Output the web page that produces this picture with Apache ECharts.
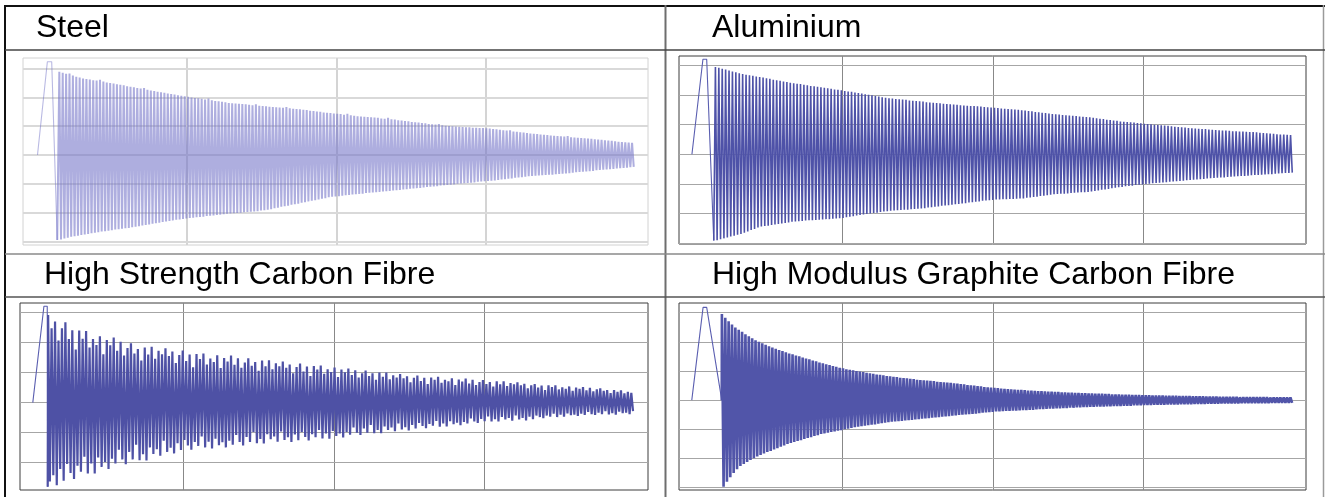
<!DOCTYPE html>
<html><head><meta charset="utf-8">
<script src="https://cdn.jsdelivr.net/npm/echarts@6/dist/echarts.min.js"></script>
<style>html,body{margin:0;padding:0;background:#fff}#c{width:1325px;height:497px}</style>
</head><body><div id="c"></div>
<script>
// ---------- DATA ----------
const titles = ['Steel', 'Aluminium', 'High Strength Carbon Fibre', 'High Modulus Graphite Carbon Fibre'];
const gridTimes = [100, 200, 300];
const gridLevels = [-3, -2, -1, 0, 1, 2, 3];

// lead-in (start, impulse, first drop) as [time, value]
const steelLead = [[0, 0], [6.6, 3.24], [9.5, 3.24], [13.2, -2.95]];
const aluLead = [[0, 0], [7.3, 3.21], [9.8, 3.21], [14.5, -2.91]];
const hscfLead = [[0, 0], [7.4, 3.21], [9.6, 3.21], [9.9, -2.80]];
const hmgcLead = [[0, 0], [7.5, 3.18], [9.9, 3.18], [19.9, 0]];

// oscillation start / end times
const steelStart = 14.6, steelEnd = 400;
const aluStart = 15.6, aluEnd = 400;
const hscfStart = 10.2, hscfEnd = 400;
const hmgcStart = 20, hmgcEnd = 400;

// per-cycle peaks and troughs
const steelPeaks = [2.89,2.86,2.82,2.83,2.76,2.72,2.69,2.66,2.64,2.62,
2.60,2.59,2.61,2.55,2.52,2.50,2.48,2.46,2.44,2.42,
2.39,2.37,2.35,2.33,2.31,2.33,2.27,2.24,2.22,2.20,
2.18,2.16,2.14,2.12,2.10,2.08,2.06,2.04,2.02,2.00,
1.98,1.97,1.95,1.93,1.96,1.90,1.88,1.87,1.85,1.83,
1.81,1.80,1.79,1.78,1.77,1.76,1.75,1.73,1.76,1.71,
1.70,1.69,1.68,1.67,1.66,1.65,1.64,1.67,1.62,1.61,
1.60,1.59,1.57,1.56,1.54,1.53,1.51,1.50,1.48,1.47,
1.46,1.44,1.43,1.42,1.40,1.43,1.38,1.36,1.35,1.34,
1.33,1.32,1.31,1.30,1.29,1.27,1.26,1.29,1.24,1.23,
1.21,1.20,1.18,1.17,1.15,1.14,1.13,1.11,1.10,1.08,
1.07,1.06,1.08,1.03,1.02,1.01,1.00,0.99,0.98,0.97,
0.96,0.96,0.95,0.95,0.94,0.94,0.93,0.92,0.90,0.89,
0.88,0.86,0.85,0.86,0.82,0.81,0.79,0.78,0.76,0.75,
0.74,0.73,0.71,0.70,0.69,0.68,0.67,0.66,0.65,0.64,
0.66,0.62,0.61,0.60,0.59,0.58,0.57,0.56,0.55,0.54,
0.53,0.51,0.50,0.49,0.48,0.46,0.45,0.44,0.43,0.42];
const steelTroughs = [-2.93,-2.90,-2.87,-2.84,-2.82,-2.80,-2.78,-2.76,-2.74,-2.72,
-2.70,-2.68,-2.66,-2.65,-2.63,-2.61,-2.59,-2.58,-2.56,-2.54,
-2.53,-2.51,-2.49,-2.47,-2.45,-2.43,-2.41,-2.39,-2.37,-2.35,
-2.33,-2.31,-2.29,-2.27,-2.25,-2.24,-2.22,-2.20,-2.19,-2.18,
-2.16,-2.15,-2.14,-2.12,-2.11,-2.10,-2.08,-2.07,-2.06,-2.04,
-2.03,-2.02,-2.01,-2.00,-1.99,-1.98,-1.97,-1.96,-1.95,-1.93,
-1.92,-1.90,-1.88,-1.85,-1.83,-1.80,-1.78,-1.76,-1.73,-1.71,
-1.69,-1.66,-1.64,-1.61,-1.59,-1.57,-1.54,-1.52,-1.50,-1.47,
-1.45,-1.44,-1.43,-1.41,-1.40,-1.39,-1.37,-1.36,-1.35,-1.34,
-1.32,-1.31,-1.30,-1.29,-1.28,-1.27,-1.26,-1.25,-1.23,-1.22,
-1.21,-1.20,-1.19,-1.17,-1.16,-1.15,-1.14,-1.13,-1.11,-1.10,
-1.09,-1.08,-1.06,-1.05,-1.04,-1.03,-1.02,-1.00,-0.99,-0.98,
-0.97,-0.96,-0.95,-0.93,-0.92,-0.91,-0.90,-0.89,-0.88,-0.87,
-0.85,-0.84,-0.82,-0.81,-0.79,-0.78,-0.77,-0.75,-0.74,-0.73,
-0.72,-0.71,-0.70,-0.69,-0.68,-0.68,-0.67,-0.66,-0.65,-0.64,
-0.63,-0.61,-0.60,-0.59,-0.58,-0.57,-0.56,-0.55,-0.53,-0.52,
-0.51,-0.50,-0.49,-0.48,-0.47,-0.46,-0.45,-0.44,-0.42,-0.41];

const aluPeaks = [2.95,2.92,2.89,2.86,2.83,2.80,2.77,2.74,2.71,2.69,
2.67,2.65,2.63,2.61,2.59,2.57,2.55,2.52,2.50,2.48,
2.46,2.44,2.42,2.40,2.38,2.37,2.35,2.33,2.31,2.30,
2.28,2.26,2.25,2.23,2.21,2.19,2.18,2.16,2.14,2.12,
2.11,2.09,2.07,2.05,2.03,2.01,1.99,1.97,1.95,1.93,
1.91,1.89,1.88,1.87,1.86,1.85,1.84,1.82,1.81,1.80,
1.79,1.78,1.76,1.75,1.74,1.73,1.72,1.71,1.70,1.69,
1.68,1.67,1.66,1.65,1.64,1.63,1.63,1.62,1.61,1.60,
1.59,1.58,1.57,1.56,1.55,1.54,1.53,1.52,1.51,1.50,
1.49,1.48,1.46,1.45,1.43,1.42,1.40,1.39,1.38,1.36,
1.35,1.34,1.33,1.32,1.31,1.30,1.29,1.28,1.27,1.26,
1.25,1.23,1.22,1.20,1.19,1.17,1.16,1.14,1.13,1.11,
1.10,1.09,1.08,1.07,1.06,1.05,1.03,1.02,1.01,1.00,
0.99,0.98,0.97,0.96,0.95,0.93,0.92,0.91,0.90,0.89,
0.88,0.87,0.86,0.85,0.85,0.84,0.83,0.82,0.81,0.80,
0.80,0.79,0.78,0.78,0.77,0.77,0.76,0.75,0.75,0.74,
0.73,0.72,0.71,0.70,0.69,0.68,0.67,0.67,0.66,0.65];
const aluTroughs = [-2.90,-2.87,-2.84,-2.81,-2.78,-2.75,-2.72,-2.69,-2.65,-2.61,
-2.56,-2.52,-2.47,-2.44,-2.42,-2.41,-2.39,-2.37,-2.35,-2.34,
-2.32,-2.30,-2.28,-2.27,-2.26,-2.25,-2.24,-2.23,-2.23,-2.22,
-2.21,-2.20,-2.19,-2.19,-2.18,-2.17,-2.16,-2.15,-2.13,-2.11,
-2.09,-2.07,-2.05,-2.03,-2.02,-2.00,-1.98,-1.97,-1.95,-1.93,
-1.92,-1.91,-1.90,-1.89,-1.88,-1.87,-1.87,-1.86,-1.85,-1.84,
-1.83,-1.82,-1.80,-1.79,-1.77,-1.76,-1.74,-1.73,-1.72,-1.70,
-1.69,-1.68,-1.66,-1.65,-1.63,-1.62,-1.60,-1.59,-1.57,-1.56,
-1.55,-1.54,-1.53,-1.53,-1.52,-1.52,-1.51,-1.51,-1.50,-1.49,
-1.49,-1.47,-1.46,-1.44,-1.43,-1.41,-1.40,-1.38,-1.37,-1.35,
-1.34,-1.33,-1.33,-1.32,-1.31,-1.30,-1.29,-1.28,-1.28,-1.27,
-1.26,-1.24,-1.22,-1.20,-1.19,-1.17,-1.15,-1.13,-1.11,-1.10,
-1.08,-1.07,-1.06,-1.04,-1.03,-1.02,-1.00,-0.99,-0.98,-0.97,
-0.96,-0.95,-0.94,-0.93,-0.92,-0.91,-0.90,-0.89,-0.88,-0.87,
-0.86,-0.85,-0.84,-0.83,-0.82,-0.81,-0.80,-0.79,-0.78,-0.78,
-0.77,-0.76,-0.75,-0.74,-0.73,-0.73,-0.72,-0.71,-0.70,-0.70,
-0.69,-0.68,-0.67,-0.67,-0.66,-0.65,-0.64,-0.63,-0.63,-0.62];

const hscfPeaks = [2.92,2.48,2.70,2.07,2.48,2.68,2.12,2.41,1.77,2.40,
2.13,2.39,1.84,2.12,1.92,2.21,1.61,2.09,1.91,2.17,
1.73,2.03,1.57,1.82,1.98,1.64,1.79,1.40,1.84,1.60,
1.86,1.46,1.73,1.61,1.81,1.55,1.70,1.32,1.59,1.74,
1.39,1.60,1.18,1.62,1.45,1.64,1.27,1.47,1.35,1.58,
1.15,1.49,1.37,1.57,1.26,1.48,1.16,1.34,1.48,1.23,
1.35,1.06,1.40,1.21,1.41,1.11,1.31,1.21,1.37,1.16,
1.27,0.98,1.19,1.30,1.04,1.20,0.89,1.22,1.10,1.24,
0.96,1.11,1.02,1.17,0.85,1.10,1.01,1.14,0.92,1.08,
0.84,0.98,1.07,0.89,0.98,0.76,1.00,0.86,1.00,0.78,
0.91,0.84,0.95,0.81,0.88,0.68,0.83,0.90,0.72,0.83,
0.62,0.84,0.76,0.86,0.66,0.76,0.71,0.81,0.59,0.77,
0.70,0.80,0.64,0.76,0.59,0.69,0.75,0.62,0.69,0.54,
0.71,0.61,0.71,0.55,0.65,0.61,0.68,0.58,0.63,0.48,
0.58,0.62,0.50,0.57,0.42,0.58,0.52,0.58,0.44,0.51,
0.46,0.54,0.39,0.50,0.46,0.52,0.41,0.49,0.38,0.44,
0.48,0.39,0.42,0.32,0.42,0.36,0.41,0.31,0.36,0.33];
const hscfTroughs = [-2.63,-2.42,-2.75,-2.21,-2.60,-2.04,-2.34,-2.54,-2.10,-2.30,
-1.80,-2.36,-2.03,-2.36,-1.83,-2.14,-1.98,-2.21,-1.87,-2.03,
-1.57,-1.89,-2.05,-1.64,-1.89,-1.40,-1.92,-1.72,-1.93,-1.49,
-1.71,-1.55,-1.77,-1.27,-1.64,-1.50,-1.69,-1.35,-1.58,-1.24,
-1.43,-1.57,-1.31,-1.44,-1.13,-1.49,-1.30,-1.53,-1.20,-1.42,
-1.32,-1.49,-1.27,-1.40,-1.08,-1.31,-1.43,-1.14,-1.31,-0.98,
-1.35,-1.21,-1.36,-1.05,-1.22,-1.13,-1.30,-0.96,-1.24,-1.15,
-1.31,-1.06,-1.25,-0.98,-1.14,-1.26,-1.05,-1.15,-0.91,-1.19,
-1.03,-1.20,-0.94,-1.11,-1.03,-1.16,-0.98,-1.07,-0.83,-1.00,
-1.08,-0.86,-1.00,-0.74,-1.02,-0.91,-1.02,-0.79,-0.91,-0.83,
-0.95,-0.69,-0.89,-0.82,-0.93,-0.74,-0.86,-0.68,-0.78,-0.85,
-0.71,-0.77,-0.61,-0.80,-0.69,-0.79,-0.62,-0.72,-0.67,-0.75,
-0.64,-0.69,-0.53,-0.63,-0.68,-0.54,-0.62,-0.46,-0.63,-0.55,
-0.63,-0.48,-0.56,-0.51,-0.60,-0.43,-0.56,-0.51,-0.59,-0.47,
-0.55,-0.43,-0.48,-0.52,-0.43,-0.47,-0.37,-0.48,-0.40,-0.47,
-0.36,-0.42,-0.40,-0.44,-0.37,-0.41,-0.31,-0.38,-0.41,-0.33,
-0.38,-0.28,-0.39,-0.35,-0.40,-0.30,-0.35,-0.33,-0.38,-0.28];

const hmgcPeaks = [2.95,2.82,2.70,2.59,2.49,2.41,2.34,2.26,2.19,2.12,
2.05,2.00,1.95,1.90,1.85,1.80,1.76,1.72,1.68,1.64,
1.60,1.57,1.53,1.50,1.46,1.43,1.40,1.36,1.33,1.29,
1.26,1.23,1.20,1.17,1.14,1.11,1.09,1.06,1.04,1.02,
1.00,0.98,0.96,0.94,0.92,0.90,0.88,0.87,0.85,0.83,
0.82,0.80,0.79,0.77,0.76,0.75,0.73,0.72,0.70,0.69,
0.68,0.67,0.66,0.65,0.63,0.62,0.61,0.60,0.59,0.58,
0.57,0.55,0.54,0.52,0.51,0.50,0.48,0.47,0.45,0.44,
0.43,0.42,0.41,0.40,0.39,0.38,0.37,0.36,0.35,0.35,
0.34,0.33,0.33,0.32,0.31,0.31,0.30,0.29,0.29,0.28,
0.28,0.27,0.27,0.26,0.26,0.25,0.25,0.24,0.24,0.23,
0.23,0.22,0.22,0.22,0.21,0.21,0.20,0.20,0.20,0.19,
0.19,0.19,0.18,0.18,0.18,0.17,0.17,0.17,0.16,0.16,
0.16,0.16,0.15,0.15,0.15,0.15,0.14,0.14,0.14,0.14,
0.13,0.13,0.13,0.13,0.12,0.12,0.12,0.12,0.11,0.11,
0.11,0.11,0.11,0.11,0.10,0.10,0.10,0.10,0.10,0.10,
0.10,0.10,0.10,0.09,0.09,0.09,0.09,0.09,0.09,0.09];
const hmgcTroughs = [-2.97,-2.80,-2.64,-2.50,-2.37,-2.26,-2.19,-2.12,-2.05,-1.99,
-1.93,-1.88,-1.83,-1.78,-1.74,-1.69,-1.65,-1.60,-1.55,-1.50,
-1.47,-1.43,-1.40,-1.37,-1.33,-1.30,-1.27,-1.23,-1.20,-1.16,
-1.14,-1.12,-1.09,-1.07,-1.05,-1.03,-1.00,-0.98,-0.95,-0.93,
-0.91,-0.89,-0.88,-0.86,-0.84,-0.83,-0.81,-0.79,-0.77,-0.76,
-0.74,-0.73,-0.72,-0.71,-0.70,-0.69,-0.68,-0.66,-0.65,-0.64,
-0.63,-0.62,-0.60,-0.59,-0.58,-0.57,-0.56,-0.55,-0.53,-0.52,
-0.51,-0.50,-0.49,-0.48,-0.47,-0.46,-0.45,-0.43,-0.42,-0.41,
-0.40,-0.39,-0.39,-0.38,-0.37,-0.37,-0.36,-0.36,-0.35,-0.34,
-0.34,-0.33,-0.33,-0.32,-0.31,-0.31,-0.30,-0.29,-0.29,-0.28,
-0.28,-0.27,-0.27,-0.26,-0.26,-0.25,-0.25,-0.24,-0.24,-0.23,
-0.23,-0.22,-0.22,-0.22,-0.21,-0.21,-0.20,-0.20,-0.20,-0.19,
-0.19,-0.19,-0.18,-0.18,-0.18,-0.17,-0.17,-0.17,-0.16,-0.16,
-0.16,-0.16,-0.15,-0.15,-0.15,-0.15,-0.14,-0.14,-0.14,-0.14,
-0.13,-0.13,-0.13,-0.13,-0.12,-0.12,-0.12,-0.12,-0.11,-0.11,
-0.11,-0.11,-0.11,-0.11,-0.10,-0.10,-0.10,-0.10,-0.10,-0.10,
-0.10,-0.10,-0.10,-0.09,-0.09,-0.09,-0.09,-0.09,-0.09,-0.09];

// ---------- BUILD ----------
function buildOscillation(lead, start, end, peaks, troughs) {
  const pts = [lead[lead.length - 1].slice()];
  const period = (end - start) / peaks.length;
  for (let i = 0; i < peaks.length; i++) {
    pts.push([start + i * period, peaks[i]]);
    pts.push([start + (i + 0.5) * period, troughs[i]]);
  }
  return pts;
}

const panels = [
  { lead: steelLead, osc: buildOscillation(steelLead, steelStart, steelEnd, steelPeaks, steelTroughs),
    grid: { left: 23, top: 58, width: 625, height: 187 }, x: [-9.7, 408.4], y: [-3.125, 3.37],
    color: 'rgba(115,115,200,0.58)', leadColor: 'rgba(115,115,200,0.5)', width: 2, border: '#d2d2d2', hCol: '#d9d9d9', vCol: '#d4d4d4', gw: 2,
    title: { x: 36, y: 28 } },
  { lead: aluLead, osc: buildOscillation(aluLead, aluStart, aluEnd, aluPeaks, aluTroughs),
    grid: { left: 679, top: 56, width: 627, height: 188 }, x: [-8.6, 408.0], y: [-3.03, 3.32],
    color: '#4e52a8', leadColor: '#5a5eb0', width: 1.6, border: '#3c3c3c', hCol: '#a6a6a6', vCol: '#888', gw: 1,
    title: { x: 712, y: 28 } },
  { lead: hscfLead, osc: buildOscillation(hscfLead, hscfStart, hscfEnd, hscfPeaks, hscfTroughs),
    grid: { left: 20, top: 303, width: 628, height: 187 }, x: [-8.5, 408.8], y: [-2.91, 3.32],
    color: '#4e51a5', leadColor: '#5a5eb0', width: 2.2, border: '#3c3c3c', hCol: '#a6a6a6', vCol: '#888', gw: 1,
    title: { x: 44, y: 275 } },
  { lead: hmgcLead, osc: buildOscillation(hmgcLead, hmgcStart, hmgcEnd, hmgcPeaks, hmgcTroughs),
    grid: { left: 679, top: 303, width: 627, height: 187 }, x: [-8.5, 408.1], y: [-3.08, 3.33],
    color: '#5155a9', leadColor: '#5a5eb0', width: 2.6, border: '#3c3c3c', hCol: '#a6a6a6', vCol: '#888', gw: 1,
    title: { x: 712, y: 275 } }
];

const option = {
  animation: false,
  backgroundColor: '#ffffff',
  grid: panels.map(p => Object.assign({ show: true, borderColor: p.border, borderWidth: 1, backgroundColor: 'transparent', containLabel: false }, p.grid)),
  xAxis: panels.map((p, i) => ({ type: 'value', gridIndex: i, min: p.x[0], max: p.x[1], show: false, splitLine: { show: false } })),
  yAxis: panels.map((p, i) => ({ type: 'value', gridIndex: i, min: p.y[0], max: p.y[1], show: false, splitLine: { show: false } })),
  series: [],
  graphic: []
};

panels.forEach((p, i) => {
  option.series.push({
    type: 'line', xAxisIndex: i, yAxisIndex: i, data: [], z: 1, silent: true,
    markLine: {
      silent: true, animation: false, z: 1, symbol: ['none', 'none'], label: { show: false },
      data: gridTimes.map(v => ({ xAxis: v, lineStyle: { color: p.vCol, width: p.gw, type: 'solid' } }))
        .concat(gridLevels.filter(v => v > p.y[0] && v < p.y[1]).map(v => ({ yAxis: v, lineStyle: { color: p.hCol, width: p.gw, type: 'solid' } })))
    }
  });
  option.series.push({
    type: 'line', xAxisIndex: i, yAxisIndex: i, data: p.lead, z: 3,
    showSymbol: false, symbol: 'none', silent: true,
    lineStyle: { color: p.leadColor, width: 1.1 }
  });
  option.series.push({
    type: 'line', xAxisIndex: i, yAxisIndex: i, data: p.osc, z: 3,
    showSymbol: false, symbol: 'none', silent: true, sampling: null,
    lineStyle: { color: p.color, width: p.width, join: 'miter', miterLimit: 2 }
  });
  option.graphic.push({
    type: 'text', x: p.title.x, y: p.title.y, silent: true,
    style: { text: titles[i], font: '32px "Liberation Sans", Arial, Helvetica, sans-serif', fill: '#000', verticalAlign: 'middle', align: 'left' }
  });
});

// table rules
const rules = [
  { x1: 5, y1: 6, x2: 1325, y2: 6, c: '#111', w: 2.2 },
  { x1: 5, y1: 5, x2: 5, y2: 497, c: '#111', w: 2 },
  { x1: 665.5, y1: 5, x2: 665.5, y2: 497, c: '#6e6e6e', w: 2 },
  { x1: 1323.5, y1: 5, x2: 1323.5, y2: 497, c: '#9a9a9a', w: 1.5 },
  { x1: 5, y1: 50, x2: 1325, y2: 50, c: '#444', w: 1.5 },
  { x1: 5, y1: 254, x2: 1325, y2: 254, c: '#8a8a8a', w: 1.5 },
  { x1: 5, y1: 297, x2: 1325, y2: 297, c: '#555', w: 1.5 }
];
rules.forEach(r => option.graphic.push({
  type: 'line', silent: true, z: 10,
  shape: { x1: r.x1, y1: r.y1, x2: r.x2, y2: r.y2 },
  style: { stroke: r.c, lineWidth: r.w }
}));

const chart = echarts.init(document.getElementById('c'), null, { renderer: 'canvas' });
chart.setOption(option);
</script>
</body></html>
